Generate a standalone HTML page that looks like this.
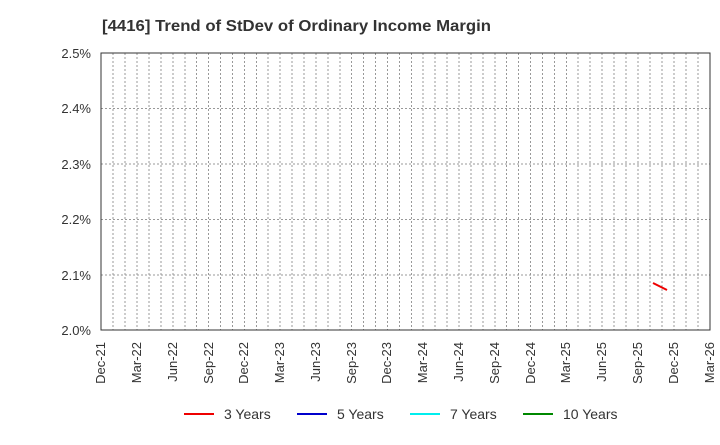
<!DOCTYPE html>
<html><head><style>body{margin:0;background:#fff;}svg{font-family:"Liberation Sans",sans-serif;}</style></head><body>
<svg width="720" height="440" xmlns="http://www.w3.org/2000/svg">
<text x="102" y="31" font-size="16" font-weight="bold" fill="#333" textLength="389" lengthAdjust="spacingAndGlyphs">[4416]  Trend of StDev of Ordinary Income Margin</text>
<g stroke="#999" stroke-dasharray="2,2">
<line x1="101" x2="710" y1="108.5" y2="108.5"/><line x1="101" x2="710" y1="164" y2="164"/><line x1="101" x2="710" y1="219.5" y2="219.5"/><line x1="101" x2="710" y1="275" y2="275"/>
<line x1="113" y1="53" x2="113" y2="330"/><line x1="125" y1="53" x2="125" y2="330"/><line x1="137" y1="53" x2="137" y2="330"/><line x1="149" y1="53" x2="149" y2="330"/><line x1="161" y1="53" x2="161" y2="330"/><line x1="173" y1="53" x2="173" y2="330"/><line x1="185" y1="53" x2="185" y2="330"/><line x1="196.5" y1="53" x2="196.5" y2="330"/><line x1="208.5" y1="53" x2="208.5" y2="330"/><line x1="220.5" y1="53" x2="220.5" y2="330"/><line x1="232.5" y1="53" x2="232.5" y2="330"/><line x1="244.5" y1="53" x2="244.5" y2="330"/><line x1="256.5" y1="53" x2="256.5" y2="330"/><line x1="268" y1="53" x2="268" y2="330"/><line x1="280" y1="53" x2="280" y2="330"/><line x1="292" y1="53" x2="292" y2="330"/><line x1="304" y1="53" x2="304" y2="330"/><line x1="316" y1="53" x2="316" y2="330"/><line x1="328" y1="53" x2="328" y2="330"/><line x1="340" y1="53" x2="340" y2="330"/><line x1="351.5" y1="53" x2="351.5" y2="330"/><line x1="363.5" y1="53" x2="363.5" y2="330"/><line x1="375.5" y1="53" x2="375.5" y2="330"/><line x1="387.5" y1="53" x2="387.5" y2="330"/><line x1="399.5" y1="53" x2="399.5" y2="330"/><line x1="411.5" y1="53" x2="411.5" y2="330"/><line x1="423" y1="53" x2="423" y2="330"/><line x1="435" y1="53" x2="435" y2="330"/><line x1="447" y1="53" x2="447" y2="330"/><line x1="459" y1="53" x2="459" y2="330"/><line x1="471" y1="53" x2="471" y2="330"/><line x1="483" y1="53" x2="483" y2="330"/><line x1="495" y1="53" x2="495" y2="330"/><line x1="506.5" y1="53" x2="506.5" y2="330"/><line x1="518.5" y1="53" x2="518.5" y2="330"/><line x1="530.5" y1="53" x2="530.5" y2="330"/><line x1="542.5" y1="53" x2="542.5" y2="330"/><line x1="554.5" y1="53" x2="554.5" y2="330"/><line x1="566.5" y1="53" x2="566.5" y2="330"/><line x1="578" y1="53" x2="578" y2="330"/><line x1="590" y1="53" x2="590" y2="330"/><line x1="602" y1="53" x2="602" y2="330"/><line x1="614" y1="53" x2="614" y2="330"/><line x1="626" y1="53" x2="626" y2="330"/><line x1="638" y1="53" x2="638" y2="330"/><line x1="650" y1="53" x2="650" y2="330"/><line x1="662" y1="53" x2="662" y2="330"/><line x1="674" y1="53" x2="674" y2="330"/><line x1="686" y1="53" x2="686" y2="330"/><line x1="698" y1="53" x2="698" y2="330"/>
</g>
<rect x="101" y="53" width="609" height="277" fill="none" stroke="#333" stroke-width="1"/>
<line x1="653" y1="283" x2="667" y2="290" stroke="#e00" stroke-width="2"/>
<g font-size="13" fill="#333" text-anchor="end">
<text x="91" y="58">2.5%</text><text x="91" y="113">2.4%</text><text x="91" y="169">2.3%</text><text x="91" y="224">2.2%</text><text x="91" y="280">2.1%</text><text x="91" y="335">2.0%</text>
</g>
<g font-size="13" fill="#333" text-anchor="end">
<text transform="translate(105,342) rotate(-90)">Dec-21</text>
<text transform="translate(141,342) rotate(-90)">Mar-22</text>
<text transform="translate(177,342) rotate(-90)">Jun-22</text>
<text transform="translate(213,342) rotate(-90)">Sep-22</text>
<text transform="translate(248,342) rotate(-90)">Dec-22</text>
<text transform="translate(284,342) rotate(-90)">Mar-23</text>
<text transform="translate(320,342) rotate(-90)">Jun-23</text>
<text transform="translate(356,342) rotate(-90)">Sep-23</text>
<text transform="translate(391,342) rotate(-90)">Dec-23</text>
<text transform="translate(427,342) rotate(-90)">Mar-24</text>
<text transform="translate(463,342) rotate(-90)">Jun-24</text>
<text transform="translate(499,342) rotate(-90)">Sep-24</text>
<text transform="translate(535,342) rotate(-90)">Dec-24</text>
<text transform="translate(570,342) rotate(-90)">Mar-25</text>
<text transform="translate(606,342) rotate(-90)">Jun-25</text>
<text transform="translate(642,342) rotate(-90)">Sep-25</text>
<text transform="translate(678,342) rotate(-90)">Dec-25</text>
<text transform="translate(714,342) rotate(-90)">Mar-26</text>
</g>
<g font-size="14" fill="#333">
<line x1="184" y1="414" x2="214" y2="414" stroke="#e00" stroke-width="2"/><text x="224" y="419">3 Years</text>
<line x1="297" y1="414" x2="327" y2="414" stroke="#00c" stroke-width="2"/><text x="337" y="419">5 Years</text>
<line x1="410" y1="414" x2="440" y2="414" stroke="#0ee" stroke-width="2"/><text x="450" y="419">7 Years</text>
<line x1="523" y1="414" x2="553" y2="414" stroke="#080" stroke-width="2"/><text x="563" y="419">10 Years</text>
</g>
</svg>
</body></html>
